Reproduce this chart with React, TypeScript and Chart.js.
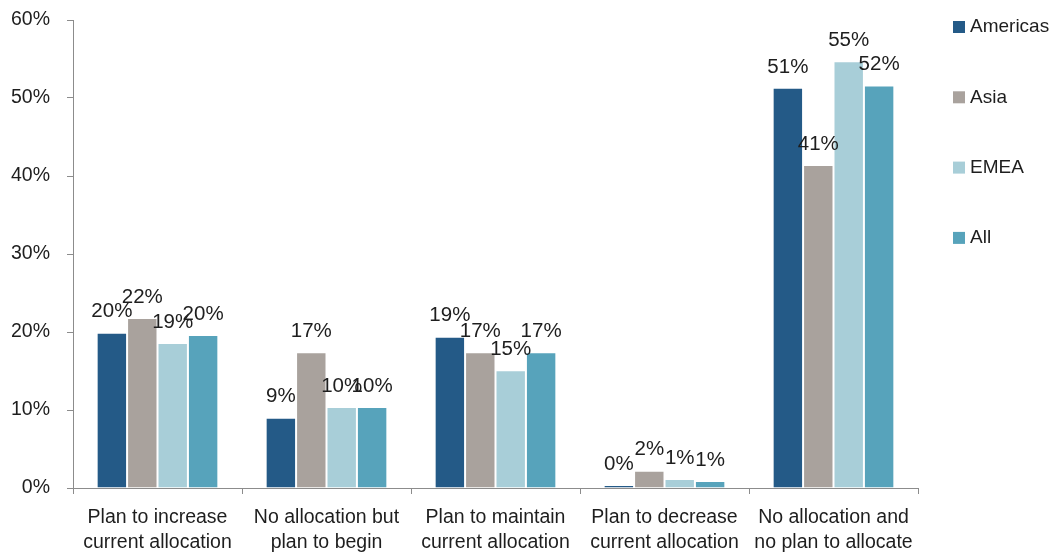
import React, { useEffect, useRef } from "react";
import { Chart, registerables } from "chart.js";

Chart.register(...registerables);

const categories: string[][] = [
  ["Plan to increase", "current allocation"],
  ["No allocation but", "plan to begin"],
  ["Plan to maintain", "current allocation"],
  ["Plan to decrease", "current allocation"],
  ["No allocation and", "no plan to allocate"],
];

const seriesNames = ["Americas", "Asia", "EMEA", "All"];
const americas = [19.9, 9.0, 19.4, 0.4, 51.3];
const asia = [21.8, 17.4, 17.4, 2.2, 41.4];
const emea = [18.6, 10.4, 15.1, 1.15, 54.7];
const all = [19.6, 10.4, 17.4, 0.9, 51.6];
const seriesColors = ["#245A87", "#A9A29D", "#A8CED8", "#57A3BB"];

const yTicks = [0, 10, 20, 30, 40, 50, 60];

const FONT = "'Liberation Sans', Arial, Helvetica, sans-serif";
const TEXT = "#1e1e1e";
const AXIS = "#8c8c8c";

const dataLabelPlugin = {
  id: "dataLabels",
  afterDatasetsDraw(chart: any) {
    const ctx = chart.ctx;
    ctx.save();
    ctx.font = `20.5px ${FONT}`;
    ctx.fillStyle = TEXT;
    ctx.textAlign = "center";
    ctx.textBaseline = "middle";
    chart.data.datasets.forEach((ds: any, i: number) => {
      const meta = chart.getDatasetMeta(i);
      meta.data.forEach((el: any, j: number) => {
        const v = ds.data[j];
        ctx.fillText(Math.round(v) + "%", el.x, el.y - 21);
      });
    });
    ctx.restore();
  },
};

const legendPlugin = {
  id: "sideLegend",
  afterDraw(chart: any) {
    const ctx = chart.ctx;
    const area = chart.chartArea;
    ctx.save();
    ctx.font = `19px ${FONT}`;
    ctx.textAlign = "left";
    ctx.textBaseline = "middle";
    chart.data.datasets.forEach((ds: any, i: number) => {
      const x = area.right + 35;
      const y = area.top + 7 + i * 70.3;
      ctx.fillStyle = ds.backgroundColor;
      ctx.fillRect(x, y - 6, 12, 12);
      ctx.fillStyle = TEXT;
      ctx.fillText(ds.label, x + 17, y);
    });
    ctx.restore();
  },
};

export default function App() {
  const ref = useRef<HTMLCanvasElement>(null);

  useEffect(() => {
    if (!ref.current) return;
    const values = [americas, asia, emea, all];
    const chart = new Chart(ref.current, {
      type: "bar",
      data: {
        labels: categories,
        datasets: seriesNames.map((name, i) => ({
          label: name,
          data: values[i],
          backgroundColor: seriesColors[i],
          borderColor: "rgba(255,255,255,0.85)",
          borderWidth: 1,
          barPercentage: 1,
          categoryPercentage: 0.72,
        })),
      },
      options: {
        responsive: false,
        animation: false,
        layout: { padding: { top: 20, right: 136, left: 0, bottom: 0 } },
        plugins: {
          legend: { display: false },
          tooltip: { enabled: false },
        },
        scales: {
          x: {
            offset: true,
            grid: {
              display: true,
              offset: true,
              drawOnChartArea: false,
              drawTicks: true,
              tickLength: 6,
              color: AXIS,
            },
            border: { display: true, color: AXIS, width: 1 },
            ticks: {
              autoSkip: false,
              maxRotation: 0,
              padding: 11,
              color: TEXT,
              font: { family: FONT, size: 19.5, lineHeight: 1.3 },
            },
            afterFit: (scale: any) => {
              scale.height = 65;
              scale.paddingLeft = 0;
              scale.paddingRight = 0;
            },
          },
          y: {
            min: 0,
            max: 60,
            afterBuildTicks: (scale: any) => {
              scale.ticks = yTicks.map((v) => ({ value: v }));
            },
            grid: {
              display: true,
              drawOnChartArea: false,
              drawTicks: true,
              tickLength: 6,
              color: AXIS,
            },
            border: { display: true, color: AXIS, width: 1 },
            ticks: {
              padding: 17,
              color: TEXT,
              font: { family: FONT, size: 19.5 },
              callback: (v: any) => v + "%",
            },
            afterFit: (scale: any) => {
              scale.width = 73;
              scale.paddingTop = 0;
              scale.paddingBottom = 0;
            },
          },
        },
      },
      plugins: [dataLabelPlugin, legendPlugin],
    });
    return () => chart.destroy();
  }, []);

  return (
    <div style={{ position: "fixed", left: 0, top: 0, width: 1054, height: 553, background: "#fff" }}>
      <canvas ref={ref} width={1054} height={553} style={{ display: "block" }} />
    </div>
  );
}
